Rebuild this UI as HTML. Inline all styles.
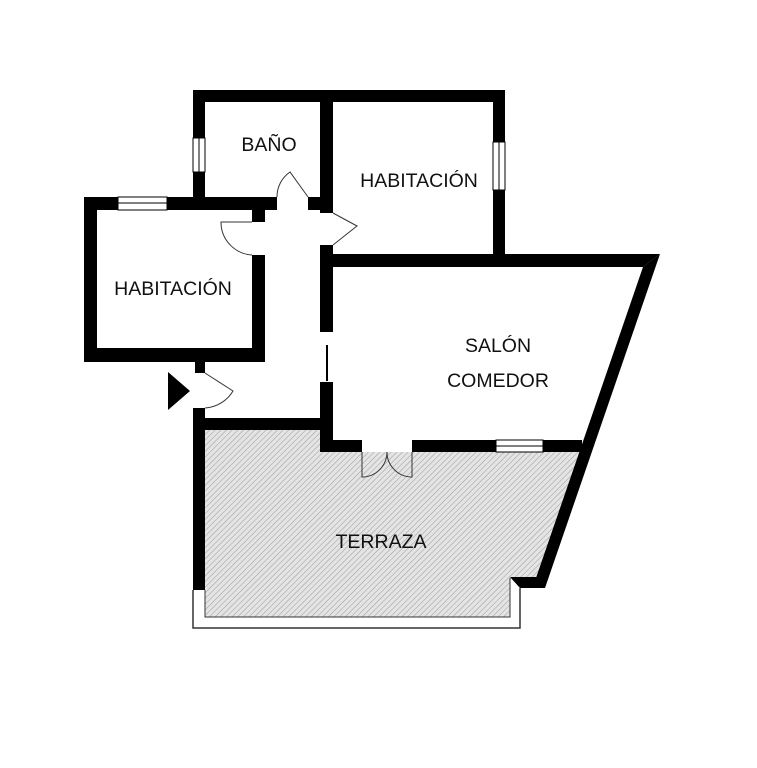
<!DOCTYPE html>
<html><head><meta charset="utf-8"><style>
html,body{margin:0;padding:0;background:#fff;}
svg{display:block}
text{font-family:"Liberation Sans",sans-serif;font-size:19.5px;fill:#111;text-anchor:middle}
</style></head><body>
<svg width="757" height="768" viewBox="0 0 757 768" xmlns="http://www.w3.org/2000/svg">
<defs>
<pattern id="h" width="4" height="4" patternUnits="userSpaceOnUse" patternTransform="rotate(45)">
<rect width="4" height="4" fill="#e4e4e4"/><line x1="0" y1="0" x2="0" y2="4" stroke="#9a9a9a" stroke-width="1"/>
</pattern>
</defs>
<polygon points="205,430 322,430 333,452 584,452 538,580 510,578 510,617 205,617" fill="url(#h)"/>
<polyline points="193,590 193,628 520,628 520,588" fill="none" stroke="#333" stroke-width="1.5"/>
<polyline points="205,590 205,617 510,617 510,578" fill="none" stroke="#333" stroke-width="1"/>
<g fill="#000">
<rect x="193" y="90" width="312" height="12"/>
<rect x="193" y="90" width="12" height="120"/>
<rect x="320" y="90" width="13" height="123"/>
<rect x="493" y="90" width="12" height="176"/>
<rect x="84" y="197" width="193" height="13"/>
<rect x="308" y="197" width="25" height="13"/>
<rect x="84" y="197" width="13" height="165"/>
<rect x="84" y="348" width="181" height="14"/>
<rect x="252" y="197" width="13" height="25"/>
<rect x="252" y="255" width="13" height="107"/>
<polygon points="320,254 660,254 643,267 320,267"/>
<polygon points="643,267 660,254 545,588 536,578"/>
<rect x="320" y="245" width="13" height="87"/>
<rect x="320" y="382" width="13" height="70"/>
<rect x="326" y="345" width="2" height="36"/>
<rect x="320" y="440" width="42" height="12"/>
<rect x="412" y="440" width="170" height="12"/>
<polygon points="510,577 538,577 545,588 520,588"/>
<rect x="193" y="418" width="140" height="12"/>
<rect x="193" y="408" width="12" height="182"/>
<rect x="195" y="362" width="10" height="11"/>
<polygon points="168,372 190,391 168,410"/>
</g>
<g fill="#fff" stroke="#000" stroke-width="1">
<rect x="193" y="138" width="12" height="34"/><line x1="199" y1="138" x2="199" y2="172"/>
<rect x="493" y="142" width="12" height="48"/><line x1="499" y1="142" x2="499" y2="190"/>
<rect x="118" y="197" width="49" height="13"/><line x1="118" y1="203" x2="167" y2="203"/>
<rect x="496" y="440" width="47" height="12"/><line x1="496" y1="446" x2="543" y2="446"/>
</g>
<g fill="none" stroke="#333" stroke-width="1">
<path d="M308,197 L290,172 A30,30 0 0 0 277,197"/>
<path d="M333,213 L357,226 L333,245"/>
<path d="M252,222 L221,222 A33,33 0 0 0 252,255"/>
<path d="M205,373 L233,391 A35,35 0 0 1 205,408"/>
<path d="M362,452 L362,477 A25,25 0 0 0 387,452 A25,25 0 0 0 412,477 L412,452"/>
</g>
<text x="269" y="151">BAÑO</text>
<text x="419" y="187">HABITACIÓN</text>
<text x="173" y="295">HABITACIÓN</text>
<text x="498" y="352">SALÓN</text>
<text x="498" y="387">COMEDOR</text>
<text x="381" y="548">TERRAZA</text>
</svg>
</body></html>
